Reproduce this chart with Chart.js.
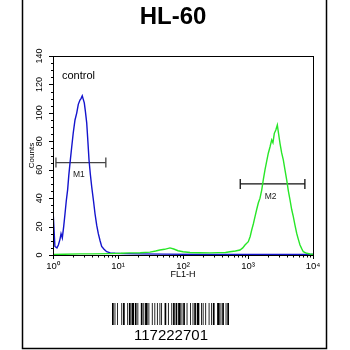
<!DOCTYPE html>
<html>
<head>
<meta charset="utf-8">
<script src="https://cdn.jsdelivr.net/npm/chart.js@4.4.1/dist/chart.umd.min.js"></script>
<style>
body { margin: 0; background: #fff; }
</style>
</head>
<body>
<canvas id="histo" width="350" height="350"></canvas>
<script>
// FL1-H channel values (log axis) and counts
const controlX = [1, 1, 1.07, 1.15, 1.21, 1.28, 1.33, 1.39, 1.46, 1.53, 1.6, 1.68, 1.75, 1.83, 1.94, 2.05, 2.18, 2.32, 2.45, 2.6, 2.7, 2.82, 2.9, 3.03, 3.15, 3.3, 3.44, 3.58, 3.75, 3.94, 4.2, 4.43, 4.7, 4.98, 5.3, 5.61, 6.1, 6.7, 7.6, 9, 12, 20, 50, 200, 1000, 10000];
const controlY = [0, 32, 6, 5, 7, 11, 15, 12, 20, 29, 38, 46, 56, 65, 76, 86, 95, 100, 106, 109, 110, 112, 110, 107, 101, 93, 80, 67, 57, 48, 38, 29, 21, 15, 10, 6, 4, 2.3, 1.5, 1.2, 1, 0.8, 0.6, 0.4, 0.3, 0.3];

const sampleX = [1, 1.5, 2.6, 4, 7.5, 11, 15, 22, 31, 38, 44, 52, 63, 72, 84, 100, 128, 180, 260, 350, 450, 528, 640, 753, 830, 899, 1011, 1080, 1140, 1210, 1282, 1360, 1440, 1530, 1625, 1720, 1828, 1940, 2053, 2180, 2315, 2420, 2540, 2680, 2826, 2960, 3106, 3290, 3493, 3700, 3938, 4180, 4428, 4700, 4978, 5280, 5610, 5950, 6310, 6700, 7096, 8000, 8995, 10000];
const sampleY = [0.3, 0.5, 0.8, 0.8, 1, 1.2, 1.5, 1.6, 2, 2.8, 3.5, 4, 5, 4.2, 3, 2.3, 1.8, 1.6, 1.5, 1.7, 1.8, 2.3, 2.8, 3.5, 5, 7, 9.4, 13, 17.6, 22, 27, 32, 36.6, 40, 45.7, 53, 60, 66, 71.6, 76, 81, 79, 85.6, 88, 91.5, 85, 78.6, 72, 66.9, 60, 52.8, 45, 38.7, 32, 27, 21, 15.3, 11, 7, 4.5, 2.3, 1.2, 0.7, 0.5];

// marker gates
const gateM1X = [1.11, 6.5];
const gateM1Y = 65;
const gateM2X = [760, 7500];
const gateM2Y = 50;

const decades = [1, 10, 100, 1000, 10000];
const supers = ['⁰', '¹', '²', '³', '⁴'];
const yTickLabels = [0, 20, 40, 60, 80, 100, 120, 140];

const barcodeText = '117222701';
const barcodePattern = '2112141123112131211321113113121212111322131121213111221312112132111213121123311122112';

const pts = (xs, ys) => xs.map((x, i) => ({x: x, y: Array.isArray(ys) ? ys[i] : ys}));

const narrow = "'Liberation Sans Narrow', 'Liberation Sans', Arial, sans-serif";
const sans = "'Liberation Sans', Arial, sans-serif";

const decoPlugin = {
    id: 'deco',
    beforeDraw(chart) {
        const ctx = chart.ctx;
        ctx.save();
        ctx.fillStyle = '#fff';
        ctx.fillRect(0, 0, chart.width, chart.height);
        ctx.restore();
    },
    afterDraw(chart) {
        const ctx = chart.ctx;
        const a = chart.chartArea;
        const xs = chart.scales.x;
        const ys = chart.scales.y;
        ctx.save();
        ctx.strokeStyle = '#000';
        ctx.lineWidth = 1;
        ctx.strokeRect(Math.round(a.left) + 0.5, Math.round(a.top) + 0.5, Math.round(a.right - a.left), Math.round(a.bottom - a.top));

        // y tick marks
        ctx.beginPath();
        ys.ticks.forEach(t => {
            const py = Math.round(ys.getPixelForValue(t.value)) + 0.5;
            const len = t.value % 20 === 0 ? 4 : 2;
            ctx.moveTo(a.left, py);
            ctx.lineTo(a.left - len, py);
        });
        // x tick marks (log decades + minors)
        decades.forEach((d, i) => {
            for (let k = 1; k <= 9; k++) {
                if (i === decades.length - 1 && k > 1) break;
                const px = Math.round(xs.getPixelForValue(d * k)) + 0.5;
                const len = k === 1 ? 4 : 2.5;
                ctx.moveTo(px, a.bottom);
                ctx.lineTo(px, a.bottom + len);
            }
        });
        ctx.stroke();

        // title
        ctx.fillStyle = '#000';
        ctx.textAlign = 'center';
        ctx.textBaseline = 'alphabetic';
        ctx.font = 'bold 24px ' + sans;
        ctx.fillText('HL-60', 173, 24);

        ctx.textAlign = 'left';
        ctx.font = '11px ' + sans;
        ctx.fillText('control', 62, 79);

        // gate labels
        ctx.textAlign = 'center';
        ctx.textBaseline = 'middle';
        ctx.font = '8.5px ' + sans;
        ctx.fillStyle = '#222';
        ctx.fillText('M1', xs.getPixelForValue(Math.sqrt(gateM1X[0] * gateM1X[1])) - 2, ys.getPixelForValue(gateM1Y) + 12);
        ctx.fillText('M2', xs.getPixelForValue(Math.sqrt(gateM2X[0] * gateM2X[1])) - 2, ys.getPixelForValue(gateM2Y) + 13);

        // barcode
        const total = barcodePattern.split('').reduce((s, c) => s + Number(c), 0);
        const unit = 117 / total;
        let bx = 112;
        ctx.fillStyle = '#000';
        barcodePattern.split('').forEach((c, i) => {
            const w = Number(c) * unit;
            if (i % 2 === 0) ctx.fillRect(bx, 303, w, 22);
            bx += w;
        });
        ctx.font = '15px ' + sans;
        ctx.textBaseline = 'alphabetic';
        ctx.fillText(barcodeText, 171, 340);

        // outer frame
        ctx.lineWidth = 1.5;
        ctx.strokeStyle = '#000';
        ctx.strokeRect(22.5, -2, 304, 350.5);
        ctx.restore();
    }
};

new Chart(document.getElementById('histo'), {
    type: 'line',
    data: {
        datasets: [
            {
                label: 'sample',
                data: pts(sampleX, sampleY),
                borderColor: 'rgb(40, 230, 40)',
                borderWidth: 1.4,
                pointRadius: 0,
                tension: 0
            },
            {
                label: 'control',
                data: pts(controlX, controlY),
                borderColor: 'rgb(20, 20, 205)',
                borderWidth: 1.4,
                pointRadius: 0,
                tension: 0
            },
            {
                label: 'M1',
                data: pts(gateM1X, gateM1Y),
                borderColor: '#444',
                borderWidth: 1.3,
                pointStyle: 'line',
                pointRadius: 5,
                pointRotation: 90,
                pointBorderColor: '#444',
                pointBorderWidth: 1.3
            },
            {
                label: 'M2',
                data: pts(gateM2X, gateM2Y),
                borderColor: '#111',
                borderWidth: 1.3,
                pointStyle: 'line',
                pointRadius: 5,
                pointRotation: 90,
                pointBorderColor: '#111',
                pointBorderWidth: 1.3
            }
        ]
    },
    options: {
        responsive: false,
        animation: false,
        devicePixelRatio: 1,
        layout: { padding: { top: 56, right: 37, bottom: 0, left: 0 } },
        plugins: {
            legend: { display: false },
            tooltip: { enabled: false }
        },
        scales: {
            x: {
                type: 'logarithmic',
                min: 1,
                max: 10000,
                grid: { display: false, drawTicks: false },
                border: { display: false },
                afterFit: (s) => { s.height = 95; },
                ticks: {
                    autoSkip: false,
                    maxRotation: 0,
                    padding: 6,
                    color: '#000',
                    font: { family: narrow, size: 9.5 },
                    callback: (v) => {
                        const i = decades.indexOf(v);
                        return i >= 0 ? '10' + supers[i] : '';
                    }
                },
                title: {
                    display: true,
                    text: 'FL1-H',
                    color: '#000',
                    font: { family: sans, size: 9 },
                    padding: { top: 0, bottom: 70 }
                }
            },
            y: {
                min: 0,
                max: 140,
                grid: { display: false, drawTicks: false },
                border: { display: false },
                afterFit: (s) => { s.width = 53; },
                ticks: {
                    stepSize: 5,
                    autoSkip: false,
                    minRotation: 90,
                    maxRotation: 90,
                    crossAlign: 'center',
                    padding: 6,
                    color: '#000',
                    font: { family: narrow, size: 9 },
                    callback: (v) => yTickLabels.includes(v) ? String(v) : ''
                },
                title: {
                    display: true,
                    text: 'Counts',
                    color: '#000',
                    font: { family: sans, size: 8 },
                    padding: { top: 27, bottom: 0 }
                }
            }
        }
    },
    plugins: [decoPlugin]
});
</script>
</body>
</html>
